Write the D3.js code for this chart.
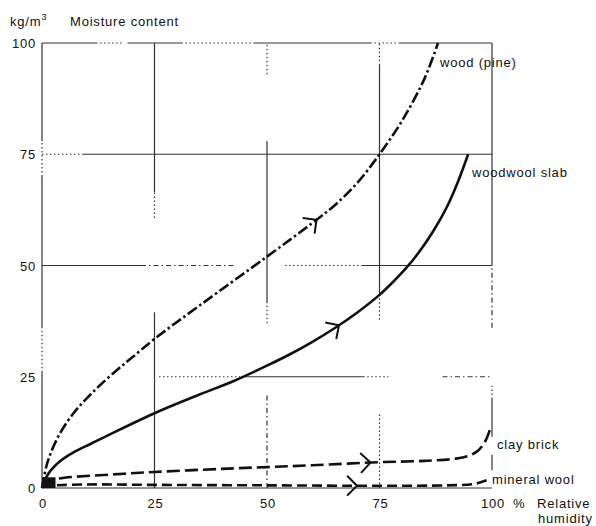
<!DOCTYPE html>
<html>
<head>
<meta charset="utf-8">
<script src="https://cdn.jsdelivr.net/npm/d3@7"></script>
<style>
  body { margin: 0; background: #fff; }
  text { font-family: "Liberation Sans", Arial, sans-serif; font-size: 13px; fill: #111; letter-spacing: 0.8px; }
</style>
</head>
<body>
<div id="chart"></div>
<script>

// Moisture content (kg/m3) against relative humidity (%)
var woodPine = [[0,0],[1,5],[2,8],[4,12.3],[7,16.8],[10,20.2],[13,23.2],[17,26.8],[20,29.3],[25,33.5],[35,41],[50,52],[60,59.5],[65,63.5],[70,68.5],[75,75],[80,82.5],[85,92],[88,100]];
var woodwoolSlab = [[0,0],[1,2.5],[2,4],[4,6],[7,8],[11,10],[15,12],[25,16.8],[35,21],[42.5,24],[50,27.5],[55,30],[60,32.8],[65,35.9],[70,39.4],[75,43.4],[78,46.3],[81,49.5],[84,53.3],[87,57.8],[90,63.2],[92.5,69],[94.7,75]];
var clayBrick = [[0,1],[2,1.8],[5,2.3],[15,3],[25,3.6],[40,4.3],[50,4.7],[60,5.1],[75,5.8],[85,6.1],[92,6.6],[95,7.3],[97,8.5],[98.5,10.5],[99.5,13]];
var mineralWool = [[0,0.5],[10,0.8],[25,0.7],[50,0.6],[75,0.5],[90,0.6],[96,0.9],[99,1.8]];

var xTicks = [0, 25, 50, 75, 100];
var yTicks = [0, 25, 50, 75, 100];

// gridline pieces of the scanned original: value, from, to, style
var vGrid = [
  [0, 78, 100, "s"], [0, 70, 78, "d"], [0, 36, 70, "s"], [0, 26, 36, "d"], [0, 0, 26, "s"],
  [25, 66.5, 100, "s"], [25, 60.7, 66.5, "d"], [25, 0, 39.5, "s"],
  [50, 93, 100, "d"], [50, 41.5, 78, "s"], [50, 37, 41.5, "d"], [50, 0, 21, "dd"],
  [75, 95, 100, "d"], [75, 43.4, 95, "s"], [75, 37.8, 43.4, "d"], [75, 0, 17, "d"],
  [100, 50, 100, "s"], [100, 36, 50, "dd"], [100, 20, 23, "d"], [100, 11.5, 20, "s"], [100, 4, 7.5, "s"]
];
var hGrid = [
  [100, 0, 12, "s"], [100, 12, 18, "d"], [100, 19, 31, "s"], [100, 31, 47, "d"], [100, 47, 73, "s"], [100, 73, 79.5, "d"], [100, 79.5, 100, "s"],
  [75, 0, 9, "d"], [75, 9, 100, "s"],
  [50, 0, 22, "s"], [50, 22, 43, "dd"], [50, 54, 71, "d"], [50, 71, 100, "s"],
  [25, 26, 44, "d"], [25, 45, 71.4, "s"], [25, 71.4, 77, "d"], [25, 89, 100, "dd"],
  [0, 0, 100, "s"]
];

var margin = { top: 43, right: 104, bottom: 38, left: 42 };
var width = 596 - margin.left - margin.right,
    height = 526 - margin.top - margin.bottom;

var svg = d3.select("#chart").append("svg")
    .attr("width", 596)
    .attr("height", 526);

var g = svg.append("g")
    .attr("transform", "translate(" + margin.left + "," + margin.top + ")");

var x = d3.scaleLinear().domain([0, 100]).range([0, width]);
var y = d3.scaleLinear().domain([0, 100]).range([height, 0]);

var gridDash = { s: null, d: "1.5,2.5", dd: "5,3,1.5,3" };

// grid
g.selectAll(".vgrid").data(vGrid).enter().append("line")
    .attr("class", "vgrid")
    .attr("x1", function(d) { return x(d[0]); })
    .attr("x2", function(d) { return x(d[0]); })
    .attr("y1", function(d) { return y(d[1]); })
    .attr("y2", function(d) { return y(d[2]); })
    .attr("stroke", "#333")
    .attr("stroke-width", 1.2)
    .attr("stroke-dasharray", function(d) { return gridDash[d[3]]; });

g.selectAll(".hgrid").data(hGrid).enter().append("line")
    .attr("class", "hgrid")
    .attr("y1", function(d) { return y(d[0]); })
    .attr("y2", function(d) { return y(d[0]); })
    .attr("x1", function(d) { return x(d[1]); })
    .attr("x2", function(d) { return x(d[2]); })
    .attr("stroke", "#333")
    .attr("stroke-width", 1.2)
    .attr("stroke-dasharray", function(d) { return gridDash[d[3]]; });

// tick labels
g.selectAll(".ylab").data(yTicks).enter().append("text")
    .attr("class", "ylab")
    .attr("x", -6)
    .attr("y", function(d) { return y(d) + 5; })
    .attr("text-anchor", "end")
    .text(function(d) { return d; });

g.selectAll(".xlab").data(xTicks).enter().append("text")
    .attr("class", "xlab")
    .attr("x", function(d) { return x(d) + 1; })
    .attr("y", height + 20)
    .attr("text-anchor", "middle")
    .text(function(d) { return d; });

// curves
var line = d3.line()
    .x(function(d) { return x(d[0]); })
    .y(function(d) { return y(d[1]); })
    .curve(d3.curveCatmullRom.alpha(0.5));

var series = [
  { name: "wood (pine)", data: woodPine, dash: "11,3,2.5,3", arrowAt: 61, lx: 398, ly: 24 },
  { name: "woodwool slab", data: woodwoolSlab, dash: null, arrowAt: 66, lx: 430, ly: 134 },
  { name: "clay brick", data: clayBrick, dash: "13,5", arrowAt: 73, lx: 455, ly: 406 },
  { name: "mineral wool", data: mineralWool, dash: "10,5", arrowAt: 70, lx: 450, ly: 441 }
];

series.forEach(function(s) {
  var path = g.append("path")
      .datum(s.data)
      .attr("d", line)
      .attr("fill", "none")
      .attr("stroke", "#111")
      .attr("stroke-width", 2.6)
      .attr("stroke-dasharray", s.dash);

  // open arrow head on the curve
  var node = path.node(), total = node.getTotalLength();
  var target = x(s.arrowAt), lo = 0, hi = total;
  for (var i = 0; i < 30; i++) {
    var mid = (lo + hi) / 2;
    if (node.getPointAtLength(mid).x < target) lo = mid; else hi = mid;
  }
  var p = node.getPointAtLength(lo),
      p0 = node.getPointAtLength(Math.max(0, lo - 3)),
      p1 = node.getPointAtLength(Math.min(total, lo + 3));
  var ang = Math.atan2(p1.y - p0.y, p1.x - p0.x) + Math.PI, len = 14;
  var a1 = ang - Math.PI / 4, a2 = ang + Math.PI / 4;
  g.append("path")
      .attr("d", "M" + (p.x + len * Math.cos(a1)) + "," + (p.y + len * Math.sin(a1)) +
                 "L" + p.x + "," + p.y +
                 "L" + (p.x + len * Math.cos(a2)) + "," + (p.y + len * Math.sin(a2)))
      .attr("fill", "none")
      .attr("stroke", "#111")
      .attr("stroke-width", 2);

  g.append("text")
      .attr("x", s.lx)
      .attr("y", s.ly)
      .attr("fill", "#111")
      .text(s.name);
});

// black blob at the origin
g.append("rect")
    .attr("x", x(0))
    .attr("y", y(2.4))
    .attr("width", x(3) - x(0))
    .attr("height", y(0) - y(2.4))
    .attr("fill", "#111");

// axis titles
var unit = svg.append("text").attr("x", 10).attr("y", 26).text("kg/m");
unit.append("tspan").attr("dy", -6).attr("font-size", 9).text("3");
svg.append("text").attr("x", 70).attr("y", 26).text("Moisture content");

svg.append("text").attr("x", 513).attr("y", 508).text("%");
svg.append("text").attr("x", 537).attr("y", 508).text("Relative");
svg.append("text").attr("x", 538).attr("y", 523).text("humidity");

</script>
</body>
</html>
